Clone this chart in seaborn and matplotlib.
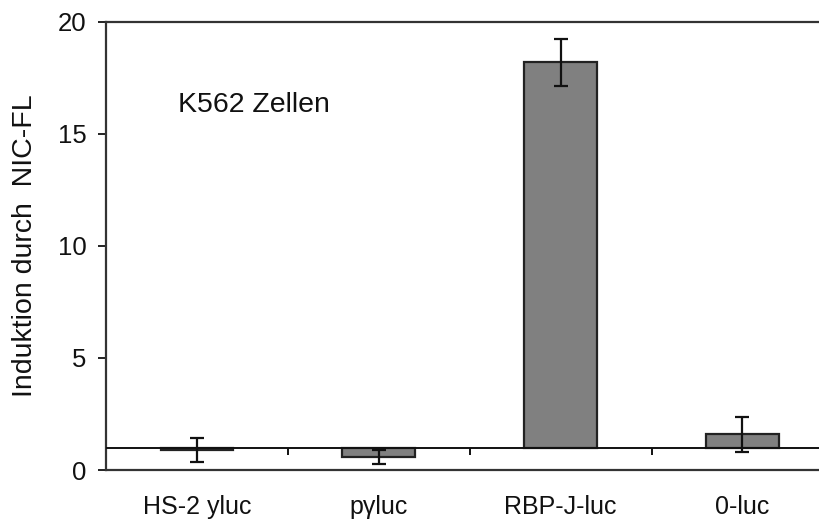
import matplotlib
matplotlib.use("Agg")
import matplotlib.pyplot as plt
import seaborn as sns
import pandas as pd
import numpy as np

categories = ["HS-2 yluc", "p\u03b3luc", "RBP-J-luc", "0-luc"]
values = [0.90, 0.58, 18.19, 1.59]
errors = [0.53, 0.31, 1.05, 0.78]
baseline = 1.0
y_ticks = [0, 5, 10, 15, 20]

sns.set_theme(style="white")
plt.rcParams['font.family'] = ['Liberation Sans', 'DejaVu Sans']

fig = plt.figure(figsize=(8.19, 5.22), dpi=100)
ax = fig.add_axes([106/819, 52/522, 1 - 106/819 + 0.002, (470-21.5)/522])

df = pd.DataFrame({"cat": categories, "delta": np.array(values) - baseline})
sns.barplot(data=df, x="cat", y="delta", color="#808080", saturation=1,
            width=0.40, edgecolor="#222222", linewidth=1.6, ax=ax, errorbar=None)
# shift bars so they start at the baseline
for p in ax.patches:
    p.set_y(p.get_y() + baseline)

ax.errorbar(np.arange(len(categories)), values, yerr=errors, fmt="none",
            ecolor="#111111", elinewidth=1.6, capsize=5, capthick=1.6, zorder=5)

ax.axhline(baseline, color="#111111", lw=1.4, zorder=4)
# ticks on the baseline between categories
for xb in [0.5, 1.5, 2.5]:
    ax.plot([xb, xb], [baseline, baseline - 0.32], color="#111111", lw=1.4,
            solid_capstyle="butt", zorder=4)

ax.set_xlim(-0.5, 3.43)
ax.set_ylim(0, 20)
ax.set_yticks(y_ticks)
ax.set_yticklabels([str(t) for t in y_ticks], fontsize=18.5, color="#111111")
ax.tick_params(axis="y", direction="out", length=6, width=1.4, color="#222222",
               left=True, pad=8)
ax.tick_params(axis="x", length=0, pad=18, labelsize=18, labelcolor="#111111")
ax.set_xlabel("")
ax.set_ylabel("Induktion durch  NIC-FL", fontsize=20.5, color="#111111", labelpad=14)

for side in ["left", "bottom", "top"]:
    ax.spines[side].set_visible(True)
    ax.spines[side].set_color("#333333")
    ax.spines[side].set_linewidth(1.6)
ax.spines["right"].set_visible(False)

ax.text(178/819, (522-105)/522, "K562 Zellen", transform=fig.transFigure,
        fontsize=20.5, color="#111111", ha="left", va="center")

fig.savefig("out.png", dpi=100, facecolor="white")
